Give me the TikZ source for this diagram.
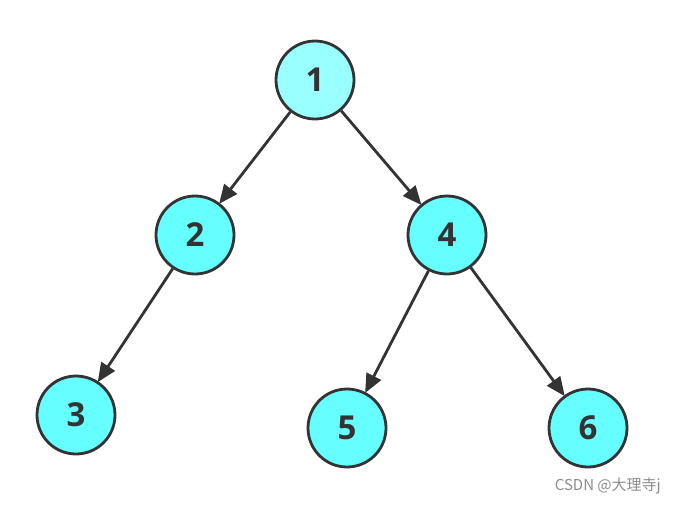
\documentclass[tikz,border=0pt]{standalone}
\usepackage{fontspec}
\setmainfont{Open Sans}
\newfontfamily\cjk{Noto Sans CJK SC}
\usetikzlibrary{arrows.meta}
\definecolor{nodeA}{HTML}{99FFFF}
\definecolor{nodeB}{HTML}{66FFFF}
\definecolor{edgec}{HTML}{333333}
\begin{document}
\begin{tikzpicture}[x=1pt,y=-1pt,
  tnode/.style={circle,draw=edgec,line width=2.8pt,fill=nodeB,minimum size=78pt,inner sep=0pt,
    font=\fontsize{33}{33}\selectfont\bfseries,text=edgec},
  tedge/.style={draw=edgec,line width=2.8pt,-{Triangle[length=19pt,width=16pt]},shorten >=-1pt}]
\useasboundingbox[fill=white] (0,0) rectangle (674,504);
\node[tnode,fill=nodeA] (n1) at (315,80) {1};
\node[tnode] (n2) at (195,235) {2};
\node[tnode] (n4) at (447,235) {4};
\node[tnode] (n3) at (76,415) {3};
\node[tnode] (n5) at (347,428) {5};
\node[tnode] (n6) at (588,428) {6};
\draw[tedge] (n1) -- (n2);
\draw[tedge] (n1) -- (n4);
\draw[tedge] (n2) -- (n3);
\draw[tedge] (n4) -- (n5);
\draw[tedge] (n4) -- (n6);
\node[anchor=east,text=gray!90,font=\cjk\fontsize{15}{15}\selectfont,inner sep=0pt] (wm) at (661,486) {CSDN @大理寺j};
\end{tikzpicture}
\end{document}
